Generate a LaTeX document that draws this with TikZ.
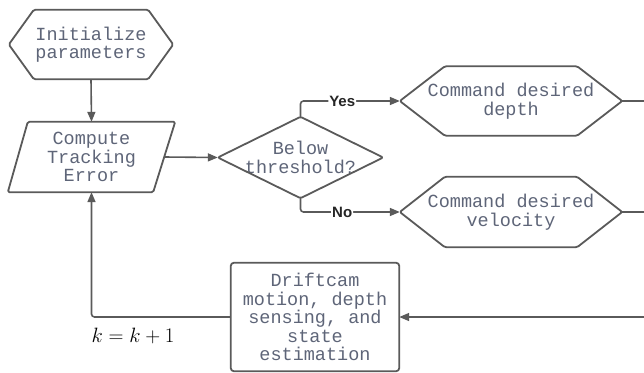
\documentclass[tikz,border=0pt]{standalone}
\usepackage{fontspec}
\setmonofont{Liberation Mono}
\newfontfamily\labelfont{Liberation Sans}
\usetikzlibrary{arrows.meta}
\definecolor{txtgray}{HTML}{5E6578}
\definecolor{linegray}{HTML}{5A5A5A}
\tikzset{
  shapebox/.style={draw=none, inner sep=0pt, align=center, text=txtgray,
    font=\ttfamily\fontsize{18.5}{18.5}\selectfont},
  shapeline/.style={draw=linegray, line width=1.8pt, line join=round, rounded corners=1.5pt},
  conn/.style={draw=linegray, line width=1.6pt, rounded corners=3pt},
  arr/.style={conn, -{Triangle[length=10pt,width=8pt]}},
  yn/.style={fill=white, inner sep=1pt, text=black!85, font=\labelfont\bfseries\fontsize{15}{15}\selectfont}
}
\newcommand\hexdraw[2]{\draw[shapeline] (#1.west) -- ([xshift=#2]#1.north west) -- ([xshift=-#2]#1.north east) -- (#1.east) -- ([xshift=-#2]#1.south east) -- ([xshift=#2]#1.south west) -- cycle;}
\begin{document}
\begin{tikzpicture}[x=1pt,y=-1pt]
\useasboundingbox (0,0) rectangle (644,372);
% nodes
\node[shapebox, minimum width=164pt, minimum height=69pt] (init) at (91,44.5) {Initialize\\parameters};
\node[shapebox, minimum width=167pt, minimum height=70pt] (comp) at (91.5,157) {Compute\\Tracking\\Error};
\node[shapebox, minimum width=165pt, minimum height=81pt] (dia) at (300.5,157.5) {Below\\threshold?};
\node[shapebox, minimum width=222pt, minimum height=69pt] (depth) at (511,101) {Command desired\\depth};
\node[shapebox, minimum width=222pt, minimum height=70pt] (vel) at (511,212) {Command desired\\velocity};
\node[shapebox, minimum width=168pt, minimum height=108pt] (drift) at (315,317) {Driftcam\\motion, depth\\sensing, and\\state\\estimation};
% shapes
\hexdraw{init}{25pt}
\hexdraw{depth}{45pt}
\hexdraw{vel}{45pt}
\draw[shapeline] (dia.west) -- (dia.north) -- (dia.east) -- (dia.south) -- cycle;
\draw[shapeline] (comp.south west) -- ([xshift=20pt]comp.north west) -- (comp.north east) -- ([xshift=-22pt]comp.south east) -- cycle;
\draw[shapeline, rounded corners=3pt] (drift.south west) rectangle (drift.north east);
% free ends at the right edge
\coordinate (r1) at (644,101);
\coordinate (r2) at (644,212);
\coordinate (r3) at (644,317);
\coordinate (compE) at (164,157);
% connectors
\draw[arr] (init.south) -- (comp.north);
\draw[arr] (compE) -- (dia.west);
\draw[arr] (dia.north) |- node[yn, pos=0.71] (yes) {Yes} (depth.west);
\draw[arr] (dia.south) |- node[yn, pos=0.71] (no) {No} (vel.west);
\draw[conn] (depth.east) -- (r1);
\draw[conn] (vel.east) -- (r2);
\draw[arr] (r3) -- (drift.east);
\draw[arr] (drift.west) -| (comp.south);
\node[inner sep=0pt, font=\fontsize{20}{24}\selectfont] (kk) at (133,336) {$k=k+1$};
\end{tikzpicture}
\end{document}
